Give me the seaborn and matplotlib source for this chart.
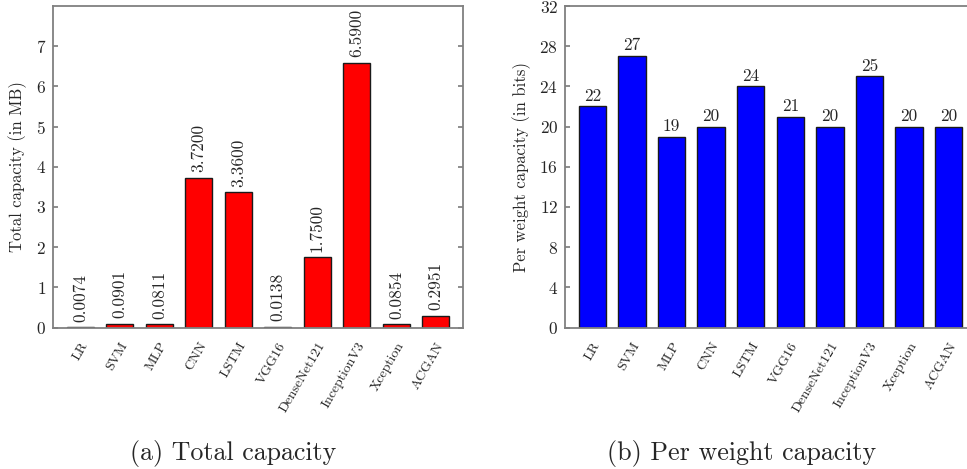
import matplotlib
matplotlib.use("Agg")
import matplotlib.pyplot as plt
import pandas as pd
import seaborn as sns

models = ["LR", "SVM", "MLP", "CNN", "LSTM", "VGG16", "DenseNet121",
          "InceptionV3", "Xception", "ACGAN"]
total_mb = [0.0074, 0.0901, 0.0811, 3.72, 3.36, 0.0138, 1.75, 6.59, 0.0854, 0.2951]
per_weight_bits = [22, 27, 19, 20, 24, 21, 20, 25, 20, 20]

sns.set_theme(style="white")
plt.rcParams["font.family"] = ["cmr10", "DejaVu Serif"]
plt.rcParams["axes.formatter.use_mathtext"] = True
plt.rcParams["mathtext.fontset"] = "cm"

df = pd.DataFrame({"model": models, "total": total_mb, "bits": per_weight_bits})

fig = plt.figure(figsize=(9.67, 4.69), dpi=100)
ax1 = fig.add_axes([0.0548, 0.3017, 0.424, 0.6855])
# right panel runs past the figure edge, as in the cropped original
ax2 = fig.add_axes([0.5843, 0.3017, 0.425, 0.6855])

SPINE = "#808080"


def style(ax):
    for s in ax.spines.values():
        s.set_color(SPINE)
        s.set_linewidth(1.3)
    ax.tick_params(axis="y", direction="in", length=3.5, color=SPINE,
                   labelsize=12.5, left=True, right=True, pad=5)
    ax.tick_params(axis="x", length=0, labelsize=10, pad=9)
    ax.set_xlabel("")
    ax.set_xlim(-0.69, 9.69)
    for lab in ax.get_xticklabels():
        lab.set_rotation(60)
        lab.set_ha("right")
        lab.set_rotation_mode("anchor")


sns.barplot(data=df, x="model", y="total", ax=ax1, color="#ff0000",
            saturation=1, width=0.69, edgecolor="#1a1a1a", linewidth=1)
ax1.set_ylim(0, 8)
ax1.set_yticks(range(0, 8))
ax1.set_ylabel("Total capacity (in MB)", fontsize=12, labelpad=6)
style(ax1)
for i, v in enumerate(total_mb):
    ax1.annotate(f"{v:.4f}", (i, v), xytext=(0, 4), textcoords="offset points",
                 rotation=90, ha="center", va="bottom", fontsize=12.5)

sns.barplot(data=df, x="model", y="bits", ax=ax2, color="#0000ff",
            saturation=1, width=0.69, edgecolor="#1a1a1a", linewidth=1)
ax2.set_ylim(0, 32)
ax2.set_yticks(range(0, 33, 4))
ax2.set_ylabel("Per weight capacity (in bits)", fontsize=12, labelpad=6)
style(ax2)
for i, v in enumerate(per_weight_bits):
    ax2.annotate(f"{v}", (i, v), xytext=(0, 2), textcoords="offset points",
                 ha="center", va="bottom", fontsize=12.5)

fig.text(0.2415, 0.034, "(a) Total capacity", ha="center", va="center", fontsize=18.7)
fig.text(0.767, 0.034, "(b) Per weight capacity", ha="center", va="center", fontsize=18.7)

fig.savefig("out.png", dpi=100)
